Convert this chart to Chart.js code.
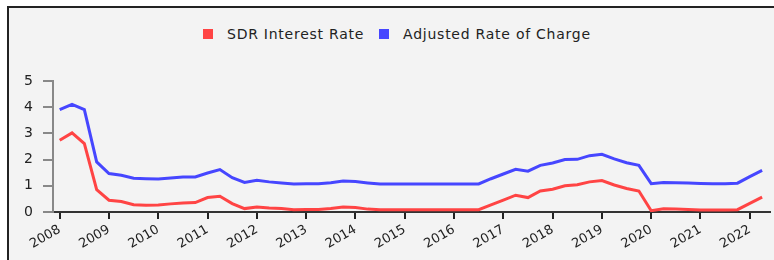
<!DOCTYPE html>
<html>
<head>
<meta charset="utf-8">
<script src="https://cdn.jsdelivr.net/npm/chart.js@4"></script>
<style>
  html, body { margin: 0; padding: 0; background: #fff; }
  #wrap { position: relative; width: 774px; height: 260px; overflow: hidden; }
  #panel {
    position: absolute; left: 7px; top: 6px; width: 800px; height: 300px;
    background: #f3f3f3; border-left: 2px solid #222; border-top: 2px solid #222;
  }
  #legend {
    position: absolute; top: 26px; left: 203px; display: flex; align-items: center;
    font-family: "DejaVu Sans", sans-serif; font-size: 14px; letter-spacing: 0.75px;
    color: #222; white-space: nowrap;
  }
  #legend .box { width: 10px; height: 10px; margin-right: 14px; }
  #legend .item { display: flex; align-items: center; margin-right: 15px; }
  #chart { position: absolute; left: 0; top: 0; }
</style>
</head>
<body>
<div id="wrap">
  <div id="panel"></div>
  <div id="legend"></div>
  <canvas id="chart" width="774" height="260"></canvas>
</div>
<script>
// quarterly periods 2008Q1 .. 2022Q2
const periods = [];
for (let y = 2008; y <= 2022; y++) {
    for (let q = 1; q <= 4; q++) {
        if (y === 2022 && q > 2) break;
        periods.push(y + 'Q' + q);
    }
}

const sdrRate = [
    2.74, 3.02, 2.61, 0.85,
    0.45, 0.40, 0.28, 0.26,
    0.27, 0.31, 0.34, 0.36,
    0.55, 0.60, 0.32, 0.13,
    0.19, 0.15, 0.13, 0.09,
    0.10, 0.10, 0.13, 0.19,
    0.17, 0.11, 0.09, 0.09,
    0.09, 0.09, 0.09, 0.09,
    0.09, 0.09, 0.09, 0.27,
    0.45, 0.64, 0.55, 0.80,
    0.87, 1.00, 1.04, 1.15,
    1.20, 1.03, 0.90, 0.80,
    0.05, 0.12, 0.11, 0.10,
    0.08, 0.08, 0.08, 0.09,
    0.33, 0.57
];

const adjustedRate = [
    3.91, 4.11, 3.91, 1.91,
    1.47, 1.40, 1.29, 1.27,
    1.26, 1.30, 1.34, 1.34,
    1.49, 1.62, 1.31, 1.13,
    1.21, 1.15, 1.11, 1.07,
    1.08, 1.08, 1.12, 1.18,
    1.16, 1.11, 1.07, 1.07,
    1.07, 1.07, 1.07, 1.07,
    1.07, 1.07, 1.07, 1.27,
    1.45, 1.63, 1.56, 1.78,
    1.87, 2.00, 2.01, 2.15,
    2.20, 2.03, 1.88, 1.78,
    1.08, 1.13, 1.12, 1.11,
    1.09, 1.08, 1.08, 1.10,
    1.35, 1.59
];

const seriesNames = ['SDR Interest Rate', 'Adjusted Rate of Charge'];
const seriesColors = ['#ff4444', '#4646ff'];

// period "2008Q3" -> 2008.5
function toX(p) {
    const parts = p.split('Q');
    return Number(parts[0]) + (Number(parts[1]) - 1) / 4;
}
const points = (vals) => vals.map((v, i) => ({ x: toX(periods[i]), y: v }));

// legend
const legendEl = document.getElementById('legend');
seriesNames.forEach((name, i) => {
    const item = document.createElement('div');
    item.className = 'item';
    item.innerHTML = '<div class="box" style="background:' + seriesColors[i] + '"></div><span>' + name + '</span>';
    legendEl.appendChild(item);
});

const ctx = document.getElementById('chart');
new Chart(ctx, {
    type: 'line',
    data: {
        datasets: [{
            label: seriesNames[0],
            data: points(sdrRate),
            borderColor: seriesColors[0],
            borderWidth: 3,
            pointRadius: 0,
            tension: 0
        }, {
            label: seriesNames[1],
            data: points(adjustedRate),
            borderColor: seriesColors[1],
            borderWidth: 3,
            pointRadius: 0,
            tension: 0
        }]
    },
    options: {
        responsive: false,
        animation: false,
        layout: {
            padding: { top: 81, right: 4, left: 0, bottom: 0 }
        },
        plugins: {
            legend: { display: false },
            tooltip: { enabled: false }
        },
        scales: {
            x: {
                type: 'linear',
                min: 2007.864,
                max: 2022.41,
                afterFit: (scale) => { scale.height = 48; },
                border: { display: true, color: '#333', width: 2 },
                grid: {
                    drawOnChartArea: false,
                    drawTicks: true,
                    tickLength: 7,
                    color: '#222',
                    lineWidth: 2
                },
                ticks: {
                    stepSize: 1,
                    includeBounds: false,
                    minRotation: 30,
                    maxRotation: 30,
                    padding: 3,
                    color: '#222',
                    font: { family: 'DejaVu Sans', size: 13 },
                    callback: (v) => String(v)
                }
            },
            y: {
                min: 0,
                max: 5,
                afterFit: (scale) => { scale.width = 53; },
                border: { display: true, color: '#888', width: 2 },
                grid: {
                    drawOnChartArea: false,
                    drawTicks: true,
                    tickLength: 10,
                    color: '#888',
                    lineWidth: 2
                },
                ticks: {
                    stepSize: 1,
                    padding: 10,
                    color: '#222',
                    font: { family: 'DejaVu Sans', size: 14 }
                }
            }
        }
    }
});
</script>
</body>
</html>
